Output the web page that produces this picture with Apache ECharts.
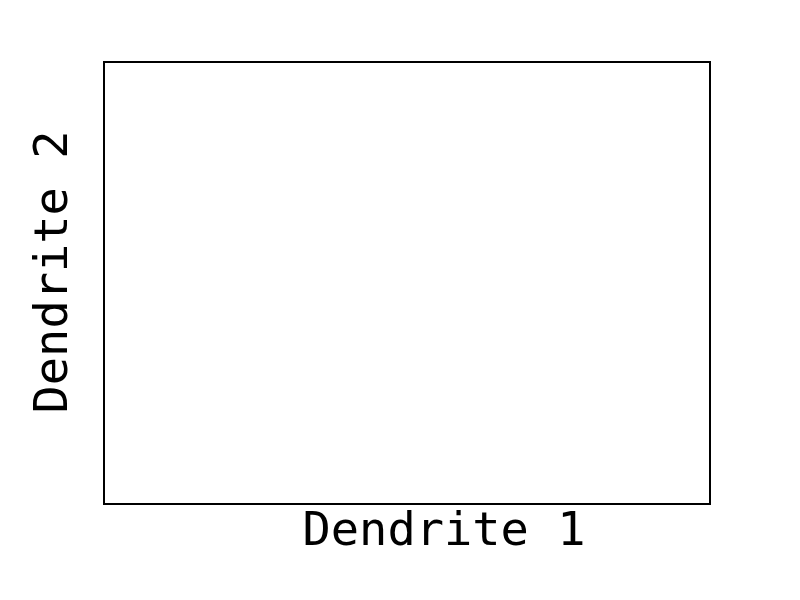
<!DOCTYPE html>
<html>
<head>
<meta charset="utf-8">
<script src="https://cdn.jsdelivr.net/npm/echarts@6/dist/echarts.min.js"></script>
<style>html,body{margin:0;padding:0;background:#fff;}#c{width:800px;height:600px;}</style>
</head>
<body>
<div id="c"></div>
<script>
const xName = 'Dendrite 1';
const yName = 'Dendrite 2';
const points = [];

const chart = echarts.init(document.getElementById('c'), null, {renderer: 'canvas'});
const font = '"DejaVu Sans Mono", monospace';
chart.setOption({
  backgroundColor: '#ffffff',
  animation: false,
  grid: {left: 104, top: 62, right: 90, bottom: 96, show: true, borderColor: '#000', borderWidth: 2, backgroundColor: 'transparent'},
  xAxis: {
    type: 'value', min: 0, max: 1,
    name: xName, nameLocation: 'middle', nameGap: 5,
    nameTextStyle: {fontFamily: font, fontSize: 47, color: '#000', padding: [0, 0, 0, 74]},
    axisLine: {show: false}, axisTick: {show: false}, axisLabel: {show: false}, splitLine: {show: false}
  },
  yAxis: {
    type: 'value', min: 0, max: 1,
    name: yName, nameLocation: 'middle', nameGap: 26,
    nameTextStyle: {fontFamily: font, fontSize: 47, color: '#000', padding: [0, 0, 0, 22]},
    axisLine: {show: false}, axisTick: {show: false}, axisLabel: {show: false}, splitLine: {show: false}
  },
  series: [{type: 'scatter', data: points}]
});
</script>
</body>
</html>
